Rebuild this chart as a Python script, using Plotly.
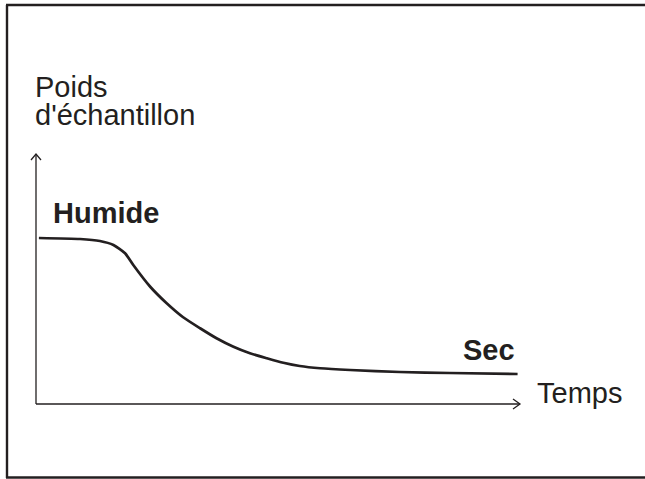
import plotly.graph_objects as go

# ---- data (arbitrary units 0-100) ----
temps = [0.6, 9.1, 13.2, 16.0, 18.4, 20.1, 23.6, 27.0, 30.4, 33.9, 37.3, 40.8,
         44.2, 47.7, 51.1, 54.5, 58.7, 64.9, 75.2, 85.5, 99.5]
poids = [66.4, 66.0, 65.2, 63.6, 60.3, 55.6, 46.9, 40.3, 34.7, 30.3, 26.3, 22.9,
         20.3, 18.3, 16.5, 15.2, 14.3, 13.6, 12.8, 12.4, 12.0]

y_title_l1 = "Poids"
y_title_l2 = "d'échantillon"
x_title = "Temps"
label_start = "Humide"
label_end = "Sec"

INK = "#231f20"
W, H = 645, 479
ML, MR, MT, MB = 36, 125, 154, 75
PW, PH = W - ML - MR, H - MT - MB


def px(x):
    return (x - ML) / PW


def py(y):
    return (H - MB - y) / PH


fig = go.Figure()
fig.add_trace(go.Scatter(
    x=temps, y=poids, mode="lines",
    line=dict(color=INK, width=2.7, shape="spline", smoothing=0.6),
    hoverinfo="skip", showlegend=False,
))

FONT = "Liberation Sans, Arial, Helvetica, sans-serif"

annotations = [
    dict(text=y_title_l1, x=px(34), y=py(86.7), xanchor="left", yanchor="middle",
         font=dict(size=29, color=INK, family=FONT)),
    dict(text=y_title_l2, x=px(34), y=py(115), xanchor="left", yanchor="middle",
         font=dict(size=29, color=INK, family=FONT)),
    dict(text="<b>" + label_start + "</b>", x=px(52), y=py(213), xanchor="left", yanchor="middle",
         font=dict(size=29, color=INK, family=FONT)),
    dict(text="<b>" + label_end + "</b>", x=px(516), y=py(350), xanchor="right", yanchor="middle",
         font=dict(size=29, color=INK, family=FONT)),
    dict(text=x_title, x=px(536), y=py(393), xanchor="left", yanchor="middle",
         font=dict(size=29, color=INK, family=FONT)),
]
for a in annotations:
    a.update(xref="paper", yref="paper", showarrow=False, borderpad=0)

frame = dict(color=INK, width=2.4)
shapes = [
    # outer frame: left, top, bottom (the right side lies beyond the page)
    dict(type="line", xref="paper", yref="paper", x0=px(7), x1=px(7), y0=py(478), y1=py(5), line=frame),
    dict(type="line", xref="paper", yref="paper", x0=px(6), x1=px(645), y0=py(5), y1=py(5), line=frame),
    dict(type="line", xref="paper", yref="paper", x0=px(6), x1=px(645), y0=py(477.5), y1=py(477.5), line=frame),
    # y axis
    dict(type="line", xref="paper", yref="paper", x0=0, x1=0, y0=0, y1=1,
         line=dict(color=INK, width=1.3)),
    # x axis
    dict(type="line", xref="paper", yref="paper", x0=0, x1=1, y0=0, y1=0,
         line=dict(color=INK, width=1.3)),
    # arrow heads (open chevrons)
    dict(type="path", xref="paper", yref="paper", xsizemode="pixel", ysizemode="pixel",
         xanchor=0, yanchor=1, path="M -5,-6 L 0,0 L 5,-6",
         line=dict(color=INK, width=1.3)),
    dict(type="path", xref="paper", yref="paper", xsizemode="pixel", ysizemode="pixel",
         xanchor=1, yanchor=0, path="M -7,5 L 0,0 L -7,-5",
         line=dict(color=INK, width=1.3)),
]

fig.update_layout(
    width=W, height=H,
    margin=dict(l=ML, r=MR, t=MT, b=MB, pad=0),
    paper_bgcolor="white", plot_bgcolor="white",
    xaxis=dict(range=[0, 100], visible=False, fixedrange=True),
    yaxis=dict(range=[0, 100], visible=False, fixedrange=True),
    annotations=annotations,
    shapes=shapes,
    showlegend=False,
)

fig.write_html(
    "out.html",
    config={"displayModeBar": False},
    post_script="document.body.style.margin='0';document.body.style.overflow='hidden';",
)
